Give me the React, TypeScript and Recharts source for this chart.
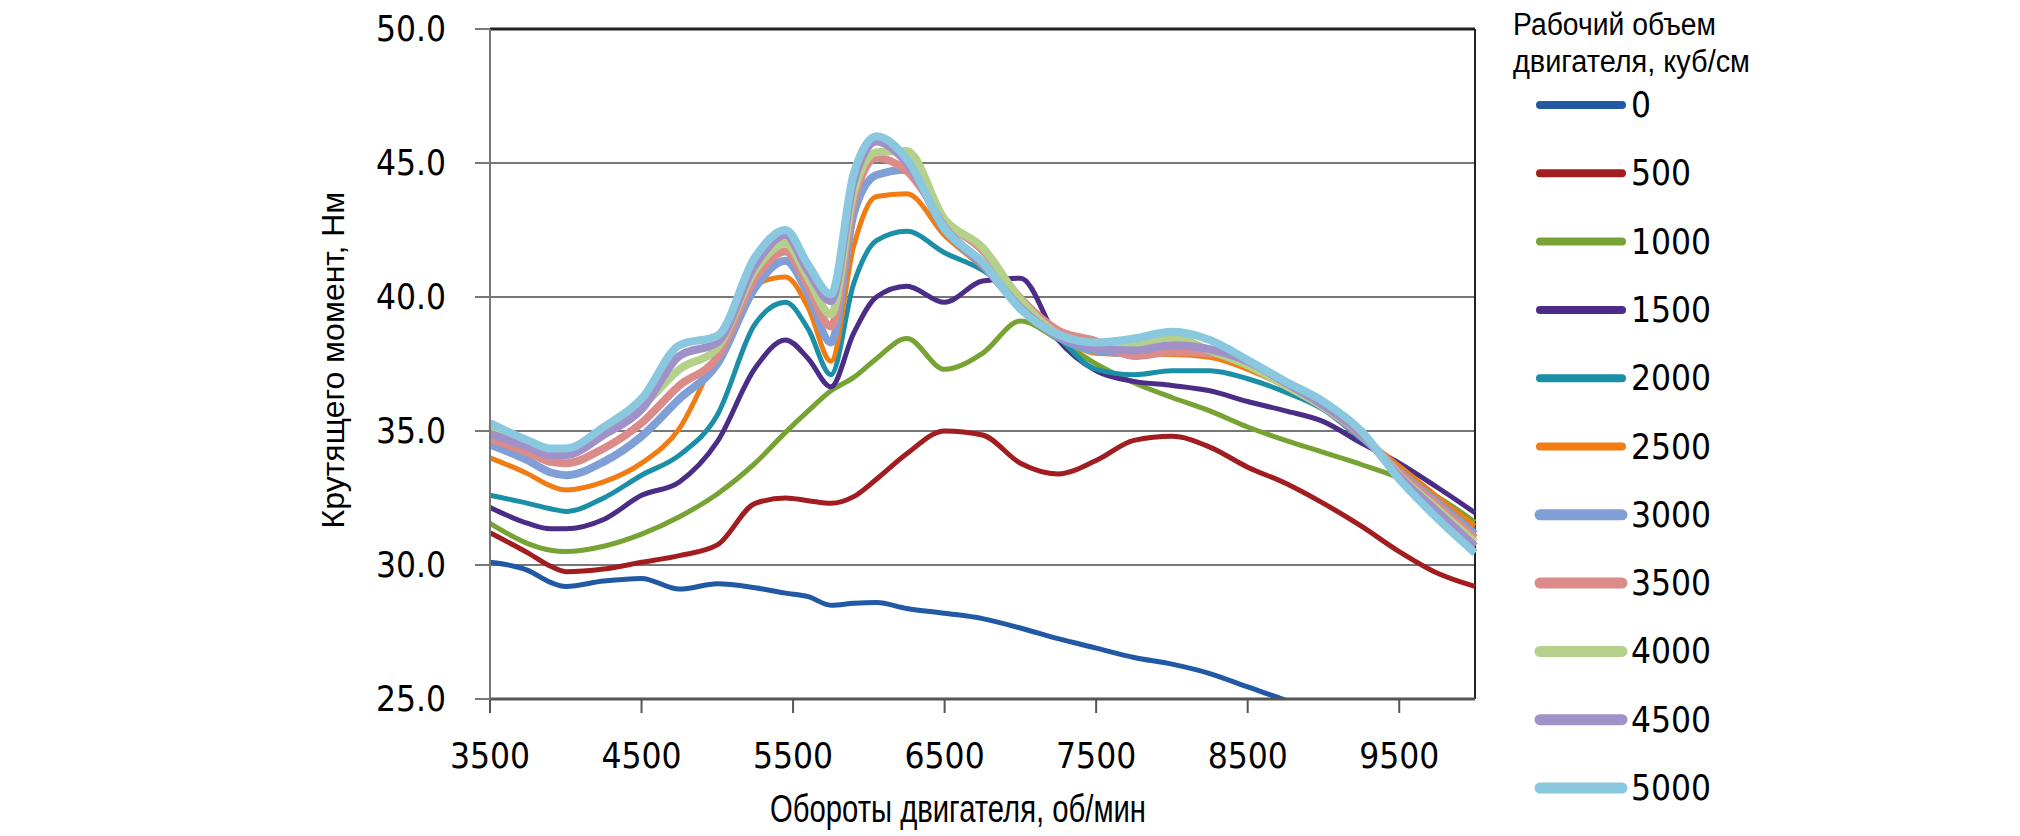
import React from "react";
import { LineChart, Line, XAxis, YAxis, CartesianGrid, ReferenceLine, Label } from "recharts";

// engine speed, rpm
const rpm = [3500, 3750, 3900, 4000, 4250, 4500, 4750, 5000, 5250, 5450, 5600, 5750, 5900, 6050, 6250, 6500, 6750, 7000, 7250, 7500, 7750, 8000, 8250, 8500, 8750, 9000, 9250, 9500, 9750, 10000];

// torque, Nm, per displacement (cc)
const torque0 = [30.1, 29.8, 29.35, 29.2, 29.4, 29.5, 29.1, 29.3, 29.15, 28.95, 28.82, 28.5, 28.57, 28.6, 28.38, 28.2, 28.0, 27.65, 27.25, 26.9, 26.55, 26.3, 25.95, 25.45, 24.95, 24.4, null, null, null, null];
const torque500 = [31.2, 30.45, 29.95, 29.75, 29.85, 30.1, 30.35, 30.75, 32.3, 32.5, 32.4, 32.3, 32.55, 33.2, 34.15, 35.0, 34.85, 33.8, 33.4, 33.9, 34.65, 34.8, 34.4, 33.65, 33.05, 32.3, 31.45, 30.5, 29.7, 29.2];
const torque1000 = [31.55, 30.8, 30.55, 30.5, 30.7, 31.15, 31.8, 32.65, 33.8, 34.95, 35.75, 36.5, 37.0, 37.7, 38.45, 37.3, 37.9, 39.1, 38.4, 37.5, 36.8, 36.25, 35.75, 35.15, 34.65, 34.2, 33.75, 33.25, 32.55, 31.6];
const torque1500 = [32.15, 31.55, 31.35, 31.35, 31.7, 32.6, 33.1, 34.6, 37.35, 38.4, 37.7, 36.65, 38.65, 40.0, 40.4, 39.8, 40.6, 40.7, 38.4, 37.25, 36.85, 36.7, 36.5, 36.1, 35.75, 35.35, 34.55, 33.8, 32.9, 31.95];
const torque2000 = [32.6, 32.3, 32.1, 32.0, 32.5, 33.35, 34.1, 35.6, 39.0, 39.8, 38.8, 37.1, 40.5, 42.1, 42.45, 41.65, 41.0, 39.9, 38.5, 37.3, 37.1, 37.25, 37.25, 36.95, 36.45, 35.8, 34.7, 33.6, 32.45, 31.3];
const torque2500 = [34.0, 33.4, 32.95, 32.8, 33.1, 33.8, 35.1, 37.9, 40.45, 40.75, 39.6, 37.6, 41.9, 43.75, 43.85, 42.3, 41.1, 39.7, 38.6, 37.9, 37.85, 37.85, 37.75, 37.3, 36.65, 35.85, 34.8, 33.7, 32.55, 31.45];
const torque3000 = [34.5, 33.9, 33.45, 33.35, 33.85, 34.8, 36.2, 37.5, 40.35, 41.35, 40.1, 38.3, 43.1, 44.55, 44.75, 42.5, 41.2, 39.6, 38.5, 38.0, 37.9, 38.1, 38.0, 37.55, 36.75, 35.9, 34.8, 33.5, 32.35, 31.15];
const torque3500 = [34.7, 34.2, 33.85, 33.8, 34.35, 35.3, 36.7, 37.75, 40.7, 41.7, 40.4, 38.9, 43.6, 45.2, 44.7, 42.85, 41.75, 39.95, 38.75, 38.35, 37.8, 37.95, 37.9, 37.5, 36.7, 35.9, 34.85, 33.45, 32.25, 31.0];
const torque4000 = [35.2, 34.55, 34.3, 34.25, 34.95, 35.9, 37.3, 38.1, 41.0, 42.0, 40.7, 39.35, 43.9, 45.4, 45.45, 42.9, 41.85, 39.9, 38.6, 38.2, 38.25, 38.5, 38.0, 37.45, 36.7, 35.9, 34.9, 33.35, 32.1, 30.85];
const torque4500 = [34.9, 34.4, 34.1, 34.1, 34.85, 35.8, 37.8, 38.3, 41.2, 42.3, 40.95, 39.85, 44.3, 45.8, 45.0, 42.6, 41.25, 39.6, 38.55, 38.1, 38.0, 38.2, 38.05, 37.6, 36.8, 35.95, 34.9, 33.3, 32.0, 30.7];
const torque5000 = [35.3, 34.65, 34.35, 34.35, 35.15, 36.2, 38.2, 38.55, 41.5, 42.5, 41.2, 40.1, 44.6, 46.0, 45.15, 42.55, 41.3, 39.55, 38.6, 38.3, 38.45, 38.7, 38.4, 37.65, 36.85, 36.1, 35.0, 33.2, 31.75, 30.45];

const volumes = ["0", "500", "1000", "1500", "2000", "2500", "3000", "3500", "4000", "4500", "5000"];
const seriesValues = [torque0, torque500, torque1000, torque1500, torque2000, torque2500, torque3000, torque3500, torque4000, torque4500, torque5000];

const yTicks = [25, 30, 35, 40, 45, 50];
const xTicks = [3500, 4500, 5500, 6500, 7500, 8500, 9500];

const colors = ["#2259a5", "#a21d1f", "#77a334", "#4b2c86", "#1b8fa8", "#f07c12", "#7f9fd6", "#dc8b8b", "#b4d08a", "#a091c8", "#8ac8e0"];
const lineWidths = [5, 5, 5, 5, 5, 5, 8, 8, 8, 8, 8];

const data = rpm.map((r, i) => {
  const row: Record<string, number | null> = { rpm: r };
  seriesValues.forEach((s, k) => {
    row["v" + volumes[k]] = s[i];
  });
  return row;
});

const tickFont = "'DejaVu Sans Condensed', 'DejaVu Sans', sans-serif";
const titleFont = "'Liberation Sans', Arial, sans-serif";

export default function App() {
  return (
    <div style={{ position: "relative", width: 2020, height: 836, background: "#fff" }}>
      <style>{"body{margin:0}"}</style>
      <LineChart width={2020} height={836} data={data} margin={{ top: 29, right: 545, bottom: 0, left: 0 }}>
        <CartesianGrid vertical={false} stroke="#777" strokeWidth={2} />
        <XAxis
          dataKey="rpm"
          type="number"
          domain={[3500, 10000]}
          ticks={xTicks}
          interval={0}
          height={137}
          tickSize={14}
          tickMargin={30}
          tick={{ fill: "#000", fontSize: 35, fontFamily: tickFont }}
          tickLine={{ stroke: "#555", strokeWidth: 2 }}
          axisLine={{ stroke: "#555", strokeWidth: 3 }}
        >
          <Label
            content={() => (
              <text
                x={770}
                y={822}
                textLength={376}
                lengthAdjust="spacingAndGlyphs"
                fill="#000"
                fontSize={39}
                fontFamily={titleFont}
              >
                Обороты двигателя, об/мин
              </text>
            )}
          />
        </XAxis>
        <YAxis
          type="number"
          domain={[25, 50]}
          ticks={yTicks}
          allowDataOverflow
          width={490}
          tickSize={15}
          tickMargin={29}
          tickFormatter={(v: number) => v.toFixed(1)}
          tick={{ fill: "#000", fontSize: 35, fontFamily: tickFont }}
          tickLine={{ stroke: "#777", strokeWidth: 2 }}
          axisLine={{ stroke: "#777", strokeWidth: 2 }}
        >
          <Label
            content={() => (
              <text
                x={333}
                y={360}
                transform="rotate(-90 333 360)"
                textAnchor="middle"
                dominantBaseline="central"
                fill="#000"
                fontSize={32}
                fontFamily={titleFont}
              >
                Крутящего момент, Нм
              </text>
            )}
          />
        </YAxis>
        <ReferenceLine y={50} stroke="#222" strokeWidth={3} />
        <ReferenceLine x={10000} stroke="#222" strokeWidth={2} />
        {volumes.map((v, k) => (
          <Line
            key={v}
            dataKey={"v" + v}
            type="monotone"
            stroke={colors[k]}
            strokeWidth={lineWidths[k]}
            dot={false}
            activeDot={false}
            isAnimationActive={false}
          />
        ))}
      </LineChart>
      <svg width={520} height={836} style={{ position: "absolute", left: 1500, top: 0 }}>
        <text x={13} y={35} textLength={203} lengthAdjust="spacingAndGlyphs" fontSize={31} fontFamily={titleFont} fill="#000">
          Рабочий объем
        </text>
        <text x={13} y={72} textLength={237} lengthAdjust="spacingAndGlyphs" fontSize={31} fontFamily={titleFont} fill="#000">
          двигателя, куб/см
        </text>
        {volumes.map((v, k) => {
          const cy = 105 + k * 68.3;
          return (
            <g key={v}>
              <line x1={40} x2={122} y1={cy} y2={cy} stroke={colors[k]} strokeWidth={lineWidths[k] + 3} strokeLinecap="round" />
              <text x={131} y={cy} dominantBaseline="central" fontSize={35} fontFamily={tickFont} fill="#000">{v}</text>
            </g>
          );
        })}
      </svg>
    </div>
  );
}
